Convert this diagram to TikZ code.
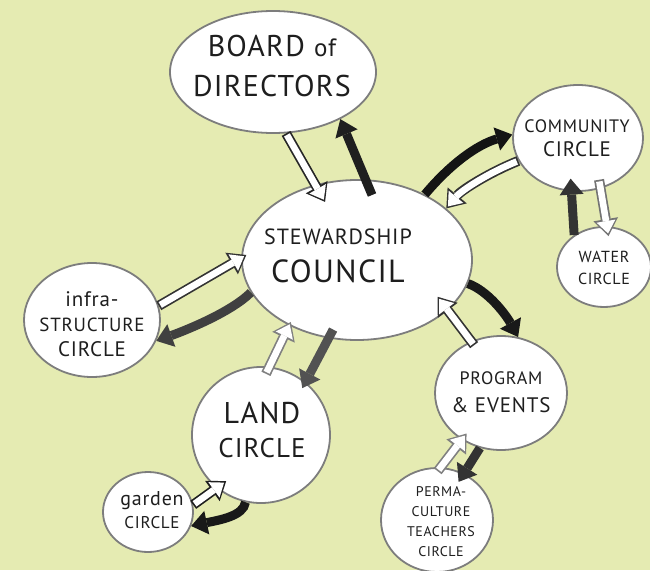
\documentclass[tikz,border=0pt]{standalone}
\usepackage{fontspec}
\setmainfont{PT Sans}[LetterSpace=4]
\usetikzlibrary{arrows.meta,calc,shapes.geometric}
\definecolor{bg}{RGB}{229,235,178}
\definecolor{ink}{RGB}{30,30,30}
\definecolor{rim}{RGB}{125,125,125}
\tikzset{
  blob/.style={ellipse, draw=rim, line width=1.8pt, fill=white, inner sep=0pt},
  lbl/.style={text=ink, align=center, inner sep=0pt},
  warr/.style={line width=10pt, draw=#1, -{Triangle[length=17pt,width=25pt,line width=0pt]},
    postaction={draw=white, line width=6.6pt, shorten >=2.6pt, shorten <=1.7pt,
      -{Triangle[length=12.5pt,width=19pt,line width=0pt]}}},
  darr/.style={line width=9pt, draw=#1, -{Triangle[length=16pt,width=24pt,line width=0pt]}},
}
\begin{document}
\begin{tikzpicture}[x=1pt,y=-1pt]
\fill[bg] (0,0) rectangle (650,570);
\useasboundingbox (0,0) rectangle (650,570);

% circles
\node[blob, minimum width=206pt, minimum height=122pt] (bod) at (273,72) {};
\node[blob, minimum width=230pt, minimum height=160pt] (sc) at (357,260) {};
\node[blob, minimum width=130pt, minimum height=106pt] (cc) at (578,138) {};
\node[blob, minimum width=94pt, minimum height=80pt] (wc) at (604,267) {};
\node[blob, minimum width=136pt, minimum height=114pt] (ic) at (92,320) {};
\node[blob, minimum width=138pt, minimum height=136pt] (lc) at (261,435) {};
\node[blob, minimum width=90pt, minimum height=80pt] (gc) at (148,512) {};
\node[blob, minimum width=132pt, minimum height=114pt] (pe) at (501,393) {};
\node[blob, minimum width=112pt, minimum height=104pt] (pt) at (437,520) {};

% labels
\node[lbl, font=\fontsize{30}{40}\selectfont] (bodt) at (272,66) {BOARD {\fontsize{25}{40}\selectfont of}\\DIRECTORS};
\node[lbl, font=\fontsize{32}{38}\selectfont] (sct) at (338,256) {{\fontsize{22}{38}\selectfont STEWARDSHIP}\\COUNCIL};
\node[lbl, font=\fontsize{21}{24}\selectfont] (cct) at (577,138) {{\fontsize{18}{24}\selectfont COMMUNITY}\\CIRCLE};
\node[lbl, font=\fontsize{16}{22}\selectfont] (wct) at (604,268) {WATER\\CIRCLE};
\node[lbl, font=\fontsize{19}{25}\selectfont] (ict) at (92,324) {{\fontsize{21}{25}\selectfont infra-}\\STRUCTURE\\{\fontsize{21}{25}\selectfont CIRCLE}};
\node[lbl, font=\fontsize{27}{34}\selectfont] (lct) at (262,430) {{\fontsize{30}{34}\selectfont LAND}\\CIRCLE};
\node[lbl, font=\fontsize{17}{23}\selectfont] (gct) at (152,510) {{\fontsize{20}{23}\selectfont garden}\\CIRCLE};
\node[lbl, font=\fontsize{21}{28}\selectfont] (pet) at (501,392) {{\fontsize{18}{28}\selectfont PROGRAM}\\\& EVENTS};
\node[lbl, font=\fontsize{14}{20}\selectfont] (ptt) at (441,522) {PERMA-\\CULTURE\\TEACHERS\\CIRCLE};

% connectors
\draw[warr=black!85] (bod.-78) -- ($(sc.119)!-20pt!(bod.-78)$);
\draw[darr=black!88] ($(sc.84)!-17pt!(bod.-35)$) -- (bod.-35);
\draw[darr=black!92] (sc.44) .. controls ($(sc.44)+(25,-30)$) and ($(cc.177)+(-35,10)$) .. (cc.177);
\draw[warr=black!80] (cc.201) .. controls ($(cc.201)+(-30,12)$) and ($(sc.30)+(15,-18)$) .. (sc.30);
\draw[warr=black!55] ($(cc.-66)!-9pt!(wc.86)$) -- ($(wc.86)!-10pt!(cc.-66)$);
\draw[darr=black!80] (wc.133) -- ($(cc.-97)!-13pt!(wc.133)$);
\draw[warr=black!80] (ic.12) -- ($(sc.179)!-6pt!(ic.12)$);
\draw[darr=black!75] (sc.197) .. controls ($(sc.197)+(-20,20)$) and ($(ic.-18)+(28,-10)$) .. (ic.-18);
\draw[warr=black!50] ($(lc.83)!-8pt!(sc.224)$) -- ($(sc.224)!-4pt!(lc.83)$);
\draw[darr=black!68] ($(sc.250)!-10pt!(lc.50)$) -- ($(lc.50)!-7pt!(sc.250)$);
\draw[darr=black!90] (sc.-12.5) .. controls ($(sc.-12.5)+(20,7)$) and ($(pe.73)+(-12,-22)$) .. (pe.73);
\draw[warr=black!80] ($(pe.120)!-5pt!(sc.-29)$) -- ($(sc.-29)!-17pt!(pe.120)$);
\draw[warr=black!50] ($(pt.86)!-5pt!(pe.230)$) -- ($(pe.230)!-8pt!(pt.86)$);
\draw[darr=black!80] (pe.249) -- ($(pt.60)!-10pt!(pe.249)$);
\draw[warr=black!88] (gc.9) -- ($(lc.230)!-12pt!(gc.9)$);
\draw[darr=black!90] (lc.257) .. controls ($(lc.257)+(-2,14)$) and ($(gc.-18)+(28,-6)$) .. (gc.-18);
\end{tikzpicture}
\end{document}
